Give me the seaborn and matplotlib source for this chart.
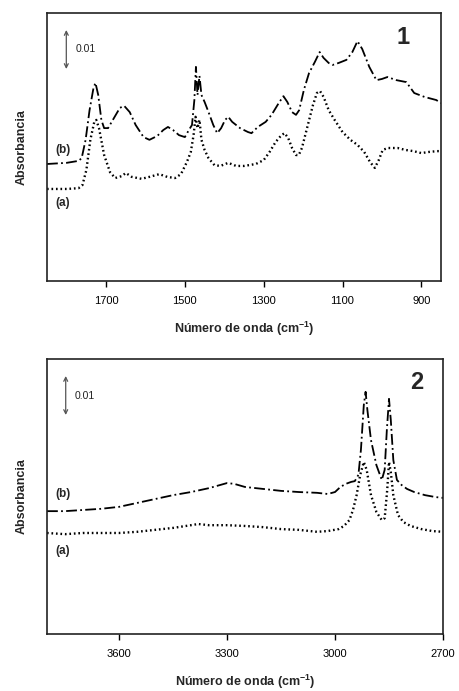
import matplotlib
matplotlib.use("Agg")
import matplotlib.pyplot as plt
import seaborn as sns
import pandas as pd

# ---- Panel 1: fingerprint region (1850-850 cm-1) ----
wn1_a = [1850, 1800, 1770, 1760, 1750, 1740, 1730, 1725, 1718, 1705, 1690, 1677,
         1660, 1650, 1635, 1610, 1590, 1565, 1545, 1525, 1510, 1495, 1485, 1478,
         1473, 1468, 1463, 1458, 1450, 1440, 1425, 1410, 1390, 1370, 1350, 1320,
         1300, 1285, 1270, 1255, 1247, 1238, 1228, 1218, 1211, 1203, 1190, 1175,
         1165, 1157, 1148, 1135, 1120, 1100, 1080, 1062, 1045, 1030, 1018, 1008,
         998, 985, 960, 940, 920, 900, 880, 860, 850]
abs1_a = [0.0236, 0.0236, 0.0238, 0.0246, 0.0285, 0.0362, 0.0408, 0.0413, 0.0392,
          0.0323, 0.0279, 0.0264, 0.0269, 0.0277, 0.0267, 0.0262, 0.0267, 0.0274,
          0.0267, 0.0264, 0.0274, 0.0305, 0.0331, 0.0374, 0.0421, 0.0392, 0.0413,
          0.0362, 0.0336, 0.0315, 0.0297, 0.0295, 0.0303, 0.0295, 0.0295, 0.0300,
          0.0310, 0.0331, 0.0356, 0.0374, 0.0379, 0.0367, 0.0341, 0.0323, 0.0323,
          0.0341, 0.0392, 0.0451, 0.0482, 0.0487, 0.0472, 0.0438, 0.0413, 0.0382,
          0.0362, 0.0349, 0.0331, 0.0305, 0.0290, 0.0310, 0.0336, 0.0341, 0.0341,
          0.0336, 0.0333, 0.0328, 0.0331, 0.0333, 0.0333]

wn1_b = [1850, 1800, 1770, 1762, 1752, 1742, 1732, 1727, 1720, 1712, 1705, 1695,
         1680, 1665, 1654, 1640, 1625, 1605, 1590, 1570, 1555, 1543, 1530, 1515,
         1500, 1490, 1482, 1476, 1472, 1468, 1463, 1458, 1450, 1440, 1428, 1418,
         1408, 1398, 1390, 1380, 1360, 1340, 1331, 1315, 1295, 1280, 1262, 1250,
         1240, 1228, 1218, 1210, 1198, 1185, 1170, 1158, 1148, 1135, 1125, 1110,
         1090, 1075, 1062, 1050, 1032, 1014, 1000, 986, 963, 938, 918, 892, 862, 850]
abs1_b = [0.0300, 0.0303, 0.0308, 0.0315, 0.0362, 0.0438, 0.0495, 0.0508, 0.0477,
          0.0413, 0.0392, 0.0392, 0.0418, 0.0444, 0.0449, 0.0433, 0.0400, 0.0369,
          0.0362, 0.0372, 0.0387, 0.0395, 0.0387, 0.0374, 0.0369, 0.0387, 0.0400,
          0.0464, 0.0549, 0.0477, 0.0526, 0.0477, 0.0459, 0.0433, 0.0400, 0.0379,
          0.0392, 0.0413, 0.0421, 0.0408, 0.0392, 0.0382, 0.0379, 0.0395, 0.0408,
          0.0426, 0.0456, 0.0474, 0.0459, 0.0433, 0.0426, 0.0438, 0.0490, 0.0533,
          0.0562, 0.0587, 0.0572, 0.0559, 0.0554, 0.0559, 0.0567, 0.0587, 0.0615,
          0.0595, 0.0549, 0.0515, 0.0518, 0.0523, 0.0515, 0.0510, 0.0482, 0.0472,
          0.0464, 0.0456]

# ---- Panel 2: C-H stretching region (3800-2700 cm-1) ----
wn2_a = [3800, 3750, 3700, 3650, 3600, 3550, 3500, 3450, 3400, 3380, 3350, 3300,
         3250, 3200, 3150, 3100, 3050, 3020, 2990, 2975, 2960, 2950, 2940, 2930,
         2920, 2912, 2900, 2885, 2870, 2862, 2855, 2850, 2845, 2838, 2825, 2810,
         2790, 2760, 2730, 2700]
abs2_a = [0.0259, 0.0256, 0.0259, 0.0259, 0.0259, 0.0262, 0.0267, 0.0272, 0.0279,
          0.0282, 0.0279, 0.0279, 0.0277, 0.0274, 0.0269, 0.0267, 0.0262, 0.0264,
          0.0269, 0.0277, 0.0292, 0.0318, 0.0356, 0.0408, 0.0441, 0.0421, 0.0356,
          0.0313, 0.0292, 0.0297, 0.0369, 0.0441, 0.0415, 0.0356, 0.0305, 0.0287,
          0.0277, 0.0269, 0.0264, 0.0262]

wn2_b = [3800, 3750, 3700, 3650, 3600, 3550, 3500, 3450, 3400, 3350, 3300, 3280,
         3250, 3200, 3150, 3100, 3050, 3020, 3000, 2985, 2970, 2955, 2945, 2935,
         2928, 2920, 2915, 2910, 2900, 2885, 2870, 2862, 2856, 2850, 2845, 2838,
         2828, 2815, 2800, 2780, 2750, 2720, 2700]
abs2_b = [0.0315, 0.0315, 0.0318, 0.0321, 0.0326, 0.0336, 0.0346, 0.0356, 0.0364,
          0.0374, 0.0387, 0.0385, 0.0377, 0.0372, 0.0367, 0.0364, 0.0362, 0.0359,
          0.0364, 0.0377, 0.0385, 0.0390, 0.0392, 0.0408, 0.0472, 0.0587, 0.0621,
          0.0574, 0.0497, 0.0433, 0.0395, 0.0421, 0.0523, 0.0603, 0.0549, 0.0446,
          0.0395, 0.0382, 0.0372, 0.0364, 0.0356, 0.0351, 0.0349]

ticks1 = [1700, 1500, 1300, 1100, 900]
ticks2 = [3600, 3300, 3000, 2700]
scale_bar = 0.01
xlabel = "Número de onda (cm$^{\\mathbf{-1}}$)"
ylabel = "Absorbancia"

sns.set_theme(style="white")
plt.rcParams["font.family"] = ["Liberation Sans", "DejaVu Sans"]
plt.rcParams["mathtext.fontset"] = "custom"
plt.rcParams["mathtext.rm"] = "Liberation Sans"
plt.rcParams["mathtext.bf"] = "Liberation Sans:bold"

fig = plt.figure(figsize=(4.59, 6.91), dpi=100)
ax1 = fig.add_axes([47 / 459, 1 - 281 / 691, 394 / 459, 268 / 691])
ax2 = fig.add_axes([47 / 459, 1 - 634 / 691, 396 / 459, 275 / 691])

# absorbance per pixel: the 0.01 bar spans about 39 px
px = 0.01 / 39

panels = [
    (ax1, wn1_a, abs1_a, wn1_b, abs1_b, (1850, 850), 268 * px, ticks1, "1",
     (0.904, 0.91), 1801, 1778, (0.0335, 0.0200), 1809),
    (ax2, wn2_a, abs2_a, wn2_b, abs2_b, (3800, 2700), 275 * px, ticks2, "2",
     (0.934, 0.913), 3748, 3722, (0.0359, 0.0213), 3756),
]

for (ax, xa, ya, xb, yb, xlim, ytop, ticks, num, numpos,
     bar_x, bar_tx, lab_y, lab_x) in panels:
    df_a = pd.DataFrame({"wn": xa, "abs": ya})
    df_b = pd.DataFrame({"wn": xb, "abs": yb})
    sns.lineplot(data=df_a, x="wn", y="abs", ax=ax, color="black", lw=1.7,
                 linestyle=(0, (0.7, 1.2)), sort=False, estimator=None)
    sns.lineplot(data=df_b, x="wn", y="abs", ax=ax, color="black", lw=1.3,
                 linestyle=(0, (6, 1.8, 1, 1.8)), sort=False, estimator=None)
    ax.set_xlim(*xlim)
    ax.set_ylim(0, ytop)
    ax.set_xticks(ticks)
    ax.set_xticklabels([str(t) for t in ticks])
    ax.set_yticks([])
    ax.tick_params(axis="x", direction="out", length=4.5, width=1.0,
                   bottom=True, labelsize=8, pad=6, colors="black")
    for sp in ax.spines.values():
        sp.set_visible(True)
        sp.set_color("#222222")
        sp.set_linewidth(1.2)
    ax.set_xlabel(xlabel, fontsize=9, fontweight="bold", labelpad=10)
    ax.set_ylabel(ylabel, fontsize=9, fontweight="bold", labelpad=14)

    # 0.01 absorbance scale bar
    y0 = ytop - 17 * px - scale_bar
    ax.annotate("", xy=(bar_x, y0), xytext=(bar_x, y0 + scale_bar),
                arrowprops=dict(arrowstyle="<->", color="#555555", lw=0.9,
                                shrinkA=0, shrinkB=0, mutation_scale=7))
    ax.text(bar_tx, y0 + scale_bar / 2, "0.01", fontsize=7.5, va="center",
            ha="left", color="#222222")

    ax.text(lab_x, lab_y[0], "(b)", fontsize=8.5, fontweight="bold",
            ha="center", va="center")
    ax.text(lab_x, lab_y[1], "(a)", fontsize=8.5, fontweight="bold",
            ha="center", va="center")
    ax.text(numpos[0], numpos[1], num, transform=ax.transAxes, fontsize=17,
            fontweight="heavy", ha="center", va="center")

fig.savefig("out.png", dpi=100)
